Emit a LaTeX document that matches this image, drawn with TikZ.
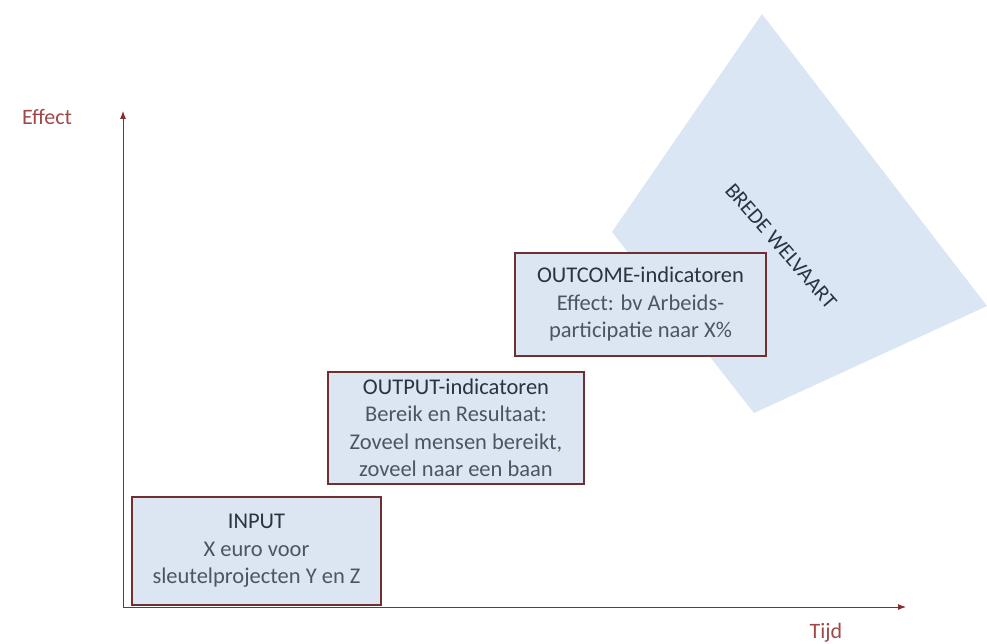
\documentclass[tikz,border=0pt]{standalone}
\usepackage{fontspec}
\setmainfont{Carlito}
\usetikzlibrary{arrows.meta}
\definecolor{axisred}{HTML}{8B2A2A}
\definecolor{labelred}{HTML}{A04848}
\definecolor{boxfill}{HTML}{DCE6F2}
\definecolor{polyfill}{HTML}{DBE6F4}
\definecolor{boxline}{HTML}{6E3030}
\definecolor{headtext}{HTML}{2B3340}
\definecolor{bodytext}{HTML}{4F5560}
\begin{document}
\begin{tikzpicture}[x=1pt,y=-1pt,
  stagebox/.style={draw=boxline, line width=1.3pt, fill=boxfill, align=center,
    font=\fontsize{22.5}{27.5}\selectfont, text=bodytext, inner sep=0pt},
  axisline/.style={draw=axisred, line width=0.9pt, -{Latex[length=8pt,width=6pt]}},
  axislabel/.style={text=labelred, font=\fontsize{22}{26}\selectfont}]
\useasboundingbox (0,0) rectangle (987,644);
% Brede welvaart shape
\fill[polyfill] (762,14) -- (987,306) -- (754,413) -- (612,232) -- cycle;
\node[rotate=-49, font=\fontsize{21.5}{24}\selectfont, text=headtext] (bw) at (781,246) {BREDE WELVAART};
% axes
\coordinate (origin) at (123,607);
\coordinate (ytop) at (123,111);
\coordinate (xend) at (906,607);
\draw[axisline] (origin) -- (ytop);
\draw[axisline] (origin) -- (xend);
\node[axislabel] (effect) at (47,117) {Effect};
\node[axislabel] (tijd) at (826,633) {Tijd};
% boxes
\node[stagebox, minimum width=249pt, minimum height=108pt] (input) at (256.5,551)
  {\textcolor{headtext}{INPUT}\\X euro voor\\sleutelprojecten Y en Z};
\node[stagebox, minimum width=256pt, minimum height=112pt] (output) at (456,428)
  {\textcolor{headtext}{OUTPUT-indicatoren}\\Bereik en Resultaat:\\Zoveel mensen bereikt,\\zoveel naar een baan};
\node[stagebox, minimum width=251pt, minimum height=103pt] (outcome) at (640.5,304.5)
  {\textcolor{headtext}{OUTCOME-indicatoren}\\Effect: bv Arbeids-\\participatie naar X\%};
\end{tikzpicture}
\end{document}
